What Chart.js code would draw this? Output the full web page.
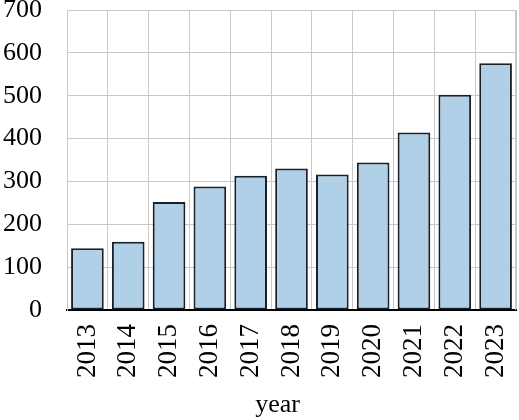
<!DOCTYPE html>
<html>
<head>
<meta charset="utf-8">
<script src="https://cdn.jsdelivr.net/npm/chart.js@4"></script>
<style>
  html, body { margin: 0; padding: 0; background: #fff; overflow: hidden; }
  #wrap { width: 519px; height: 420px; }
</style>
</head>
<body>
<div id="wrap"><canvas id="yearChart"></canvas></div>
<script>
const years = ["2013", "2014", "2015", "2016", "2017", "2018", "2019", "2020", "2021", "2022", "2023"];
const counts = [144, 159, 252, 288, 313, 330, 316, 344, 414, 502, 576];
const yTicks = [0, 100, 200, 300, 400, 500, 600, 700];
const xTitle = "year";

const serif = "'Liberation Serif', 'Times New Roman', serif";

const ctx = document.getElementById("yearChart").getContext("2d");

new Chart(ctx, {
    type: "bar",
    data: {
        labels: years,
        datasets: [{
            data: counts,
            backgroundColor: "#b0d0e8",
            borderColor: "#1a1f2a",
            borderWidth: 2,
            borderSkipped: false,
            barPercentage: 0.8,
            categoryPercentage: 1.0
        }]
    },
    options: {
        responsive: true,
        maintainAspectRatio: false,
        animation: false,
        layout: { padding: { top: 10, right: 3, left: 3, bottom: 0 } },
        plugins: {
            legend: { display: false },
            tooltip: { enabled: false }
        },
        scales: {
            x: {
                grid: { color: "#c8c8c8", lineWidth: 1, offset: true, drawTicks: false },
                border: { color: "#000", width: 2 },
                ticks: {
                    color: "#000",
                    font: { family: serif, size: 27 },
                    minRotation: 90,
                    maxRotation: 90,
                    autoSkip: false,
                    padding: 14
                },
                afterFit: axis => {
                    axis.height = 110;
                    axis.paddingLeft = 0;
                    axis.paddingRight = 0;
                }
            },
            y: {
                min: 0,
                max: 700,
                afterBuildTicks: axis => {
                    axis.ticks = yTicks.map(v => ({ value: v }));
                },
                grid: { color: "#c8c8c8", lineWidth: 1, drawTicks: false },
                border: { color: "#c8c8c8", width: 1 },
                ticks: {
                    color: "#000",
                    font: { family: serif, size: 26 },
                    padding: 25
                },
                afterFit: axis => {
                    axis.width = 64;
                    axis.paddingTop = 0;
                    axis.paddingBottom = 0;
                }
            }
        }
    },
    plugins: [{
        id: "frame",
        afterDraw(chart) {
            const a = chart.chartArea;
            const c = chart.ctx;
            c.save();
            c.strokeStyle = "#c8c8c8";
            c.lineWidth = 1;
            c.beginPath();
            c.moveTo(a.left, a.top + 0.5);
            c.lineTo(a.right - 0.5, a.top + 0.5);
            c.lineTo(a.right - 0.5, a.bottom);
            c.stroke();

            // axis title, sits a bit left of the plot centre like the original
            c.fillStyle = "#000";
            c.font = "26px " + serif;
            c.textAlign = "center";
            c.textBaseline = "middle";
            c.fillText(xTitle, (a.left + a.right) / 2 - 14, chart.height - 15);
            c.restore();
        }
    }]
});
</script>
</body>
</html>
